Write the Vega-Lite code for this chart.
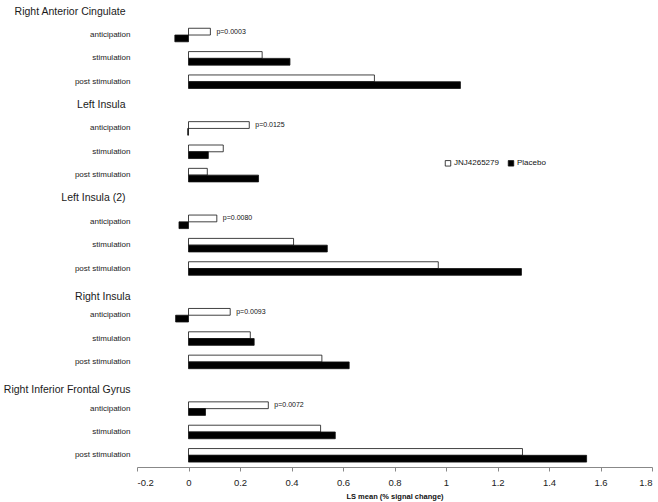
{
  "$schema": "https://vega.github.io/schema/vega-lite/v6.json",
  "autosize": {"type": "none"},
  "padding": {"left": 137, "top": 0, "right": 6, "bottom": 35},
  "width": 515,
  "height": 467,
  "background": "white",
  "config": {"view": {"stroke": null}, "font": "Liberation Sans"},
  "data": {
    "values": [
      {"row": "Right Anterior Cingulate|anticipation", "treatment": "JNJ4265279", "value": 0.085, "p": "p=0.0003"},
      {"row": "Right Anterior Cingulate|anticipation", "treatment": "Placebo", "value": -0.053},
      {"row": "Right Anterior Cingulate|stimulation", "treatment": "JNJ4265279", "value": 0.286},
      {"row": "Right Anterior Cingulate|stimulation", "treatment": "Placebo", "value": 0.394},
      {"row": "Right Anterior Cingulate|post stimulation", "treatment": "JNJ4265279", "value": 0.722},
      {"row": "Right Anterior Cingulate|post stimulation", "treatment": "Placebo", "value": 1.056},
      {"row": "Left Insula|anticipation", "treatment": "JNJ4265279", "value": 0.236, "p": "p=0.0125"},
      {"row": "Left Insula|anticipation", "treatment": "Placebo", "value": -0.003},
      {"row": "Left Insula|stimulation", "treatment": "JNJ4265279", "value": 0.135},
      {"row": "Left Insula|stimulation", "treatment": "Placebo", "value": 0.077},
      {"row": "Left Insula|post stimulation", "treatment": "JNJ4265279", "value": 0.073},
      {"row": "Left Insula|post stimulation", "treatment": "Placebo", "value": 0.272},
      {"row": "Left Insula (2)|anticipation", "treatment": "JNJ4265279", "value": 0.11, "p": "p=0.0080"},
      {"row": "Left Insula (2)|anticipation", "treatment": "Placebo", "value": -0.037},
      {"row": "Left Insula (2)|stimulation", "treatment": "JNJ4265279", "value": 0.408},
      {"row": "Left Insula (2)|stimulation", "treatment": "Placebo", "value": 0.539},
      {"row": "Left Insula (2)|post stimulation", "treatment": "JNJ4265279", "value": 0.97},
      {"row": "Left Insula (2)|post stimulation", "treatment": "Placebo", "value": 1.293},
      {"row": "Right Insula|anticipation", "treatment": "JNJ4265279", "value": 0.162, "p": "p=0.0093"},
      {"row": "Right Insula|anticipation", "treatment": "Placebo", "value": -0.05},
      {"row": "Right Insula|stimulation", "treatment": "JNJ4265279", "value": 0.24},
      {"row": "Right Insula|stimulation", "treatment": "Placebo", "value": 0.255},
      {"row": "Right Insula|post stimulation", "treatment": "JNJ4265279", "value": 0.518},
      {"row": "Right Insula|post stimulation", "treatment": "Placebo", "value": 0.624},
      {"row": "Right Inferior Frontal Gyrus|anticipation", "treatment": "JNJ4265279", "value": 0.31, "p": "p=0.0072"},
      {"row": "Right Inferior Frontal Gyrus|anticipation", "treatment": "Placebo", "value": 0.066},
      {"row": "Right Inferior Frontal Gyrus|stimulation", "treatment": "JNJ4265279", "value": 0.513},
      {"row": "Right Inferior Frontal Gyrus|stimulation", "treatment": "Placebo", "value": 0.57},
      {"row": "Right Inferior Frontal Gyrus|post stimulation", "treatment": "JNJ4265279", "value": 1.297},
      {"row": "Right Inferior Frontal Gyrus|post stimulation", "treatment": "Placebo", "value": 1.546}
    ]
  },
  "encoding": {
    "y": {
      "field": "row",
      "type": "nominal",
      "scale": {
        "domain": [
          "Right Anterior Cingulate",
          "Right Anterior Cingulate|anticipation",
          "Right Anterior Cingulate|stimulation",
          "Right Anterior Cingulate|post stimulation",
          "Left Insula",
          "Left Insula|anticipation",
          "Left Insula|stimulation",
          "Left Insula|post stimulation",
          "Left Insula (2)",
          "Left Insula (2)|anticipation",
          "Left Insula (2)|stimulation",
          "Left Insula (2)|post stimulation",
          "Right Insula",
          "Right Insula|anticipation",
          "Right Insula|stimulation",
          "Right Insula|post stimulation",
          "Right Inferior Frontal Gyrus",
          "Right Inferior Frontal Gyrus|anticipation",
          "Right Inferior Frontal Gyrus|stimulation",
          "Right Inferior Frontal Gyrus|post stimulation"
        ],
        "paddingInner": 0.42,
        "paddingOuter": 0.21
      },
      "axis": {
        "title": null,
        "domain": false,
        "ticks": false,
        "grid": false,
        "labelColor": "#1a1a1a",
        "labelFontSize": {"condition": {"test": "indexof(datum.value, '|') < 0", "value": 10.5}, "value": 8},
        "labelPadding": {"condition": {"test": "datum.value == 'Right Anterior Cingulate' || datum.value == 'Left Insula' || datum.value == 'Left Insula (2)'", "value": 12}, "value": 7},
        "labelOffset": {"condition": {"test": "datum.value == 'Right Insula' || datum.value == 'Right Inferior Frontal Gyrus'", "value": 5}, "value": 0},
        "labelExpr": "indexof(datum.value, '|') >= 0 ? split(datum.value, '|')[1] : datum.value",
        "labelLimit": 200
      }
    },
    "yOffset": {
      "field": "treatment",
      "type": "nominal",
      "sort": ["JNJ4265279", "Placebo"],
      "scale": {"paddingInner": 0, "paddingOuter": 0}
    }
  },
  "layer": [
    {
      "mark": {"type": "bar", "stroke": "#111", "strokeWidth": 0.8},
      "encoding": {
        "x": {
          "field": "value",
          "type": "quantitative",
          "scale": {"domain": [-0.2, 1.8], "nice": false, "zero": false},
          "axis": {
            "values": [-0.2, 0, 0.2, 0.4, 0.6, 0.8, 1, 1.2, 1.4, 1.6, 1.8],
            "labelExpr": "toString(datum.value)",
            "grid": false,
            "domainColor": "#888",
            "tickColor": "#888",
            "tickSize": 4,
            "labelFontSize": 9.5,
            "labelColor": "#222",
            "labelPadding": 6,
            "title": "LS mean (% signal change)",
            "titleFontSize": 7.5,
            "titleFontWeight": "bold",
            "titleColor": "#111",
            "titlePadding": 6
          }
        },
        "x2": {"datum": 0},
        "color": {
          "field": "treatment",
          "type": "nominal",
          "scale": {"domain": ["JNJ4265279", "Placebo"], "range": ["white", "black"]},
          "legend": {
            "title": null,
            "orient": "none",
            "direction": "horizontal",
            "legendX": 307,
            "legendY": 159,
            "symbolType": "square",
            "symbolSize": 30,
            "symbolStrokeColor": "#111",
            "symbolStrokeWidth": 0.8,
            "labelFontSize": 8,
            "labelColor": "#111",
            "labelOffset": 2,
            "columnPadding": 7
          }
        }
      }
    },
    {
      "transform": [{"filter": "isValid(datum.p)"}],
      "mark": {"type": "text", "align": "left", "baseline": "middle", "dx": 6, "fontSize": 7, "color": "#111"},
      "encoding": {
        "x": {"field": "value", "type": "quantitative"},
        "text": {"field": "p", "type": "nominal"}
      }
    },
    {
      "mark": {"type": "rule", "color": "#999", "strokeWidth": 1},
      "encoding": {"x": {"datum": 0}, "yOffset": null}
    }
  ]
}
